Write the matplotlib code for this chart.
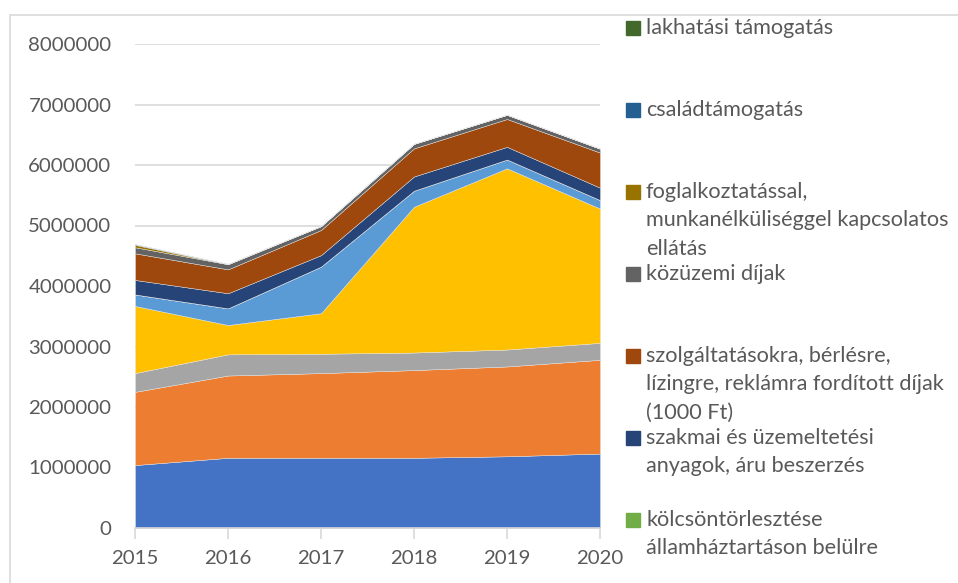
import numpy as np
import matplotlib
matplotlib.use("Agg")
import matplotlib.pyplot as plt
from matplotlib.patches import Rectangle

# years on the x axis
years = [2015, 2016, 2017, 2018, 2019, 2020]

# series, bottom of the stack first
s1_vals = [1040000, 1160000, 1160000, 1160000, 1185000, 1230000]
s2_vals = [1210000, 1360000, 1400000, 1450000, 1485000, 1550000]
s3_vals = [310000, 350000, 320000, 290000, 280000, 280000]
s4_vals = [1110000, 485000, 670000, 2410000, 2995000, 2220000]
s5_vals = [190000, 275000, 770000, 265000, 145000, 140000]
kolcson_vals = [0, 0, 0, 0, 0, 0]
szakmai_vals = [240000, 250000, 190000, 235000, 210000, 205000]
szolg_vals = [440000, 395000, 415000, 465000, 460000, 580000]
kozuzemi_vals = [100000, 85000, 65000, 75000, 70000, 65000]
foglalk_vals = [40000, 0, 0, 0, 0, 0]
csalad_vals = [12000, 6000, 0, 0, 0, 0]
lakhatasi_vals = [0, 0, 0, 0, 0, 0]

series_names = [
    "1. adatsor", "2. adatsor", "3. adatsor", "4. adatsor", "5. adatsor",
    "kölcsöntörlesztése\nállamháztartáson belülre",
    "szakmai és üzemeltetési\nanyagok, áru beszerzés",
    "szolgáltatásokra, bérlésre,\nlízingre, reklámra fordított díjak\n(1000 Ft)",
    "közüzemi díjak",
    "foglalkoztatással,\nmunkanélküliséggel kapcsolatos\nellátás",
    "családtámogatás",
    "lakhatási támogatás",
]
series_vals = [s1_vals, s2_vals, s3_vals, s4_vals, s5_vals, kolcson_vals,
               szakmai_vals, szolg_vals, kozuzemi_vals, foglalk_vals,
               csalad_vals, lakhatasi_vals]
colors = ["#4472C4", "#ED7D31", "#A5A5A5", "#FFC000", "#5B9BD5", "#70AD47",
          "#264478", "#9E480E", "#636363", "#997300", "#255E91", "#43682B"]

txt = "#595959"
plt.rcParams["font.family"] = ["Lato", "DejaVu Sans"]
plt.rcParams["font.size"] = 14.7

W, H = 958, 583
fig = plt.figure(figsize=(W / 100, H / 100), dpi=100)

# outer chart border (the picture is a crop of a bigger chart)
fig.patches.append(Rectangle((10 / W, -0.1), 2, 1.1 - 15 / H, transform=fig.transFigure,
                             fill=False, edgecolor="#D9D9D9", linewidth=1.2))

ax = fig.add_axes([135 / W, 1 - 528 / H, (600 - 135) / W, (528 - 44) / H])
ax.stackplot(years, np.array(series_vals), colors=colors, labels=series_names,
             edgecolor="#E8E8E8", linewidth=0.3)

ax.set_xlim(2015, 2020)
ax.set_ylim(0, 8000000)
ax.set_xticks(years)
ax.set_yticks(np.arange(0, 8000001, 1000000))
ax.yaxis.set_major_formatter(matplotlib.ticker.FuncFormatter(lambda v, p: f"{int(v)}"))
ax.grid(axis="y", color="#D9D9D9", linewidth=1.2)
ax.set_axisbelow(True)
for s in ["top", "right", "left"]:
    ax.spines[s].set_visible(False)
ax.spines["bottom"].set_color("#D9D9D9")
ax.spines["bottom"].set_linewidth(1.2)
ax.tick_params(axis="x", colors="#D9D9D9", length=8, width=1.2, labelcolor=txt, pad=8)
ax.tick_params(axis="y", length=0, labelcolor=txt, pad=17)

# legend on the right, top entry first (Excel style, evenly spaced slots)
order = list(range(len(series_names) - 1, 4, -1))
for i, k in enumerate(order):
    yc = 28 + 82 * i
    fig.patches.append(Rectangle((626 / W, 1 - (yc + 7) / H), 14 / W, 14 / H,
                                 transform=fig.transFigure, color=colors[k]))
    for j, line in enumerate(series_names[k].split("\n")):
        fig.text(646 / W, 1 - (yc + 28.5 * j) / H, line, color=txt,
                 ha="left", va="center", fontsize=15.6)

fig.savefig("out.png", dpi=100)
